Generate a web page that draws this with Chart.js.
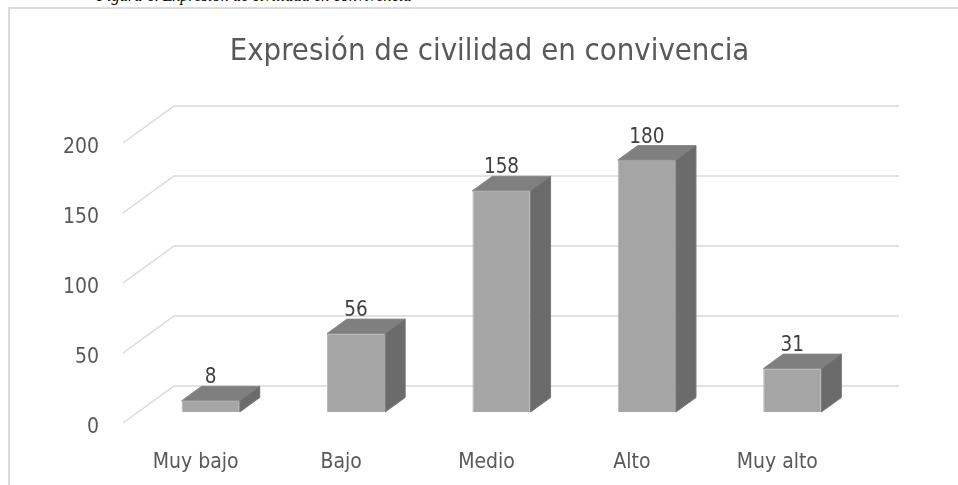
<!DOCTYPE html>
<html>
<head>
<meta charset="utf-8">
<script src="https://cdn.jsdelivr.net/npm/chart.js@4/dist/chart.umd.min.js"></script>
<style>
  html, body { margin: 0; padding: 0; background: #fff; overflow: hidden; }
  #frame { position: absolute; left: 8px; top: 7px; width: 1000px; height: 600px;
           border-left: 2px solid #dcdcdc; border-top: 2px solid #dcdcdc; }
  #caption { position: absolute; left: 97px; top: -12.3px; font: italic 16.4px "Liberation Serif", serif;
             line-height: 16px; color: #000; white-space: nowrap; }
  #chart { position: absolute; left: 0; top: 0; }
</style>
</head>
<body>
<div id="caption">Figura 6. Expresión de civilidad en convivencia</div>
<div id="frame"></div>
<canvas id="chart" width="958" height="485"></canvas>
<script>
// data
const categories = ['Muy bajo', 'Bajo', 'Medio', 'Alto', 'Muy alto'];
const counts = [8, 56, 158, 180, 31];
const yMax = 200;
const yStep = 50;
const chartTitle = 'Expresión de civilidad en convivencia';

// fake 3D: depth of the boxes and of the floor/back wall
const boxDX = 20, boxDY = 14.5;
const frontDX = -15, frontDY = 11;
const backDX = 36, backDY = -26;

const fontStack = '"DejaVu Sans Condensed", "DejaVu Sans", sans-serif';
Chart.defaults.font.family = fontStack;
Chart.defaults.color = '#595959';

// title is centred on the whole frame, not on the plot
const titleText = {
    id: 'titleText',
    afterDraw(chart) {
        const { ctx } = chart;
        ctx.save();
        ctx.fillStyle = '#595959';
        ctx.font = '30.8px ' + fontStack;
        ctx.textAlign = 'center';
        ctx.textBaseline = 'alphabetic';
        ctx.fillText(chartTitle, 489.5, 60);
        ctx.restore();
    }
};

// grid drawn as floor edge + back wall lines
const wallGrid = {
    id: 'wallGrid',
    beforeDatasetsDraw(chart) {
        const { ctx, chartArea, scales } = chart;
        ctx.save();
        ctx.strokeStyle = '#d9d9d9';
        ctx.lineWidth = 1.5;
        scales.y.ticks.forEach(t => {
            const py = scales.y.getPixelForValue(t.value);
            ctx.beginPath();
            ctx.moveTo(chartArea.left + frontDX, py + frontDY);
            ctx.lineTo(chartArea.left + backDX, py + backDY);
            ctx.lineTo(chartArea.right + backDX - 2, py + backDY);
            ctx.stroke();
        });
        ctx.restore();
    }
};

// top and side faces of each box, plus the value label
const boxFaces = {
    id: 'boxFaces',
    afterDatasetsDraw(chart) {
        const { ctx } = chart;
        const meta = chart.getDatasetMeta(0);
        const values = chart.data.datasets[0].data;
        ctx.save();
        ctx.lineWidth = 1;
        meta.data.forEach((bar, i) => {
            const { x, y, base, width } = bar.getProps(['x', 'y', 'base', 'width'], true);
            const x0 = x - width / 2, x1 = x + width / 2;

            // top
            ctx.fillStyle = '#7f7f7f';
            ctx.strokeStyle = '#8a8a8a';
            ctx.beginPath();
            ctx.moveTo(x0, y);
            ctx.lineTo(x1, y);
            ctx.lineTo(x1 + boxDX, y - boxDY);
            ctx.lineTo(x0 + boxDX, y - boxDY);
            ctx.closePath();
            ctx.fill();
            ctx.stroke();

            // right side
            ctx.fillStyle = '#6b6b6b';
            ctx.strokeStyle = '#787878';
            ctx.beginPath();
            ctx.moveTo(x1, y);
            ctx.lineTo(x1 + boxDX, y - boxDY);
            ctx.lineTo(x1 + boxDX, base - boxDY);
            ctx.lineTo(x1, base);
            ctx.closePath();
            ctx.fill();
            ctx.stroke();

            // value
            ctx.fillStyle = '#404040';
            ctx.font = '20.5px ' + fontStack;
            ctx.textAlign = 'center';
            ctx.textBaseline = 'alphabetic';
            ctx.fillText(values[i], x, y - boxDY - 3);
        });
        ctx.restore();
    }
};

new Chart(document.getElementById('chart'), {
    type: 'bar',
    data: {
        labels: categories,
        datasets: [{
            data: counts,
            backgroundColor: '#a5a5a5',
            borderColor: '#b8b8b8',
            borderWidth: 1,
            barPercentage: 0.4,
            categoryPercentage: 1
        }]
    },
    options: {
        responsive: false,
        animation: false,
        layout: { padding: { left: 0, right: 93, top: 132, bottom: 0 } },
        plugins: {
            legend: { display: false },
            tooltip: { enabled: false },
            title: { display: false }
        },
        scales: {
            x: {
                grid: { display: false, drawTicks: false },
                border: { display: false },
                ticks: { font: { size: 21 }, padding: 38, labelOffset: frontDX, color: '#595959' },
                afterFit(scale) { scale.height = 73; }
            },
            y: {
                min: 0,
                max: yMax,
                grid: { display: false, drawTicks: false },
                border: { display: false },
                ticks: { stepSize: yStep, font: { size: 21 }, padding: 39, labelOffset: 15.5, color: '#595959' },
                afterFit(scale) { scale.width = 138; }
            }
        }
    },
    plugins: [wallGrid, boxFaces, titleText]
});
</script>
</body>
</html>
